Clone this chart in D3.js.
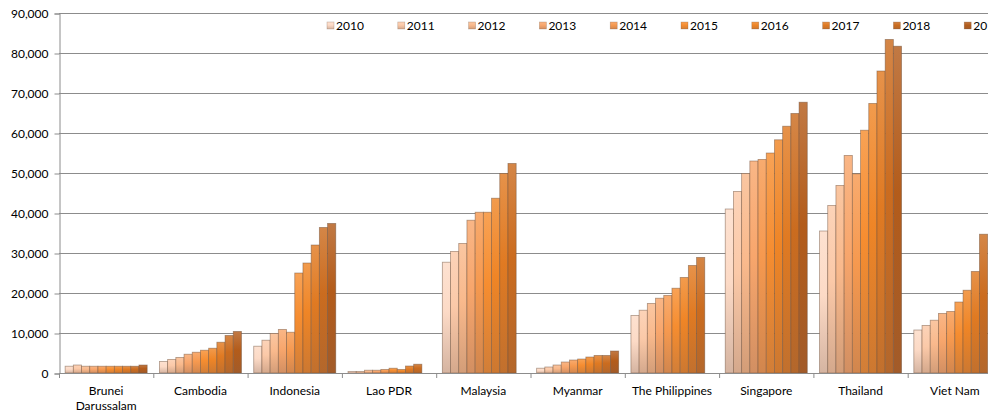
<html>
  <head>
    <title>Bar Chart</title>
    <script src="https://cdn.jsdelivr.net/npm/d3@7"></script>
    <style>
body {
  margin: 0;
  overflow: hidden;
  background: #fff;
  font-family: Lato, "Open Sans", sans-serif;
}
    </style>
  </head>
  <body>
    <script>

var categories = ["Brunei Darussalam", "Cambodia", "Indonesia", "Lao PDR", "Malaysia",
                  "Myanmar", "The Philippines", "Singapore", "Thailand", "Viet Nam"];

var years = ["2010", "2011", "2012", "2013", "2014", "2015", "2016", "2017", "2018", "2019"];

// one array per country, 2010..2019 (null = no bar)
var brunei      = [1700, 2000, 1700, 1700, 1700, 1700, 1700, 1700, 1700, 2000],
    cambodia    = [2900, 3400, 3900, 4700, 5200, 5700, 6200, 7700, 9400, 10400],
    indonesia   = [6700, 8200, 9900, 10900, 10200, 25000, 27500, 32000, 36400, 37400],
    lao         = [400, 400, 700, 700, 900, 1200, 900, 1750, 2200, null],
    malaysia    = [27700, 30400, 32400, 38200, 40200, 40200, 43700, 49900, 52400, null],
    myanmar     = [1200, 1500, 2000, 2750, 3250, 3500, 4000, 4400, 4400, 5500],
    philippines = [14400, 15700, 17400, 18700, 19400, 21200, 23900, 26900, 28900, null],
    singapore   = [41000, 45400, 49900, 53000, 53400, 55000, 58300, 61700, 64900, 67700],
    thailand    = [35500, 41900, 46900, 54400, 49800, 60700, 67400, 75500, 83400, 81700],
    vietnam     = [10750, 11900, 13200, 14900, 15400, 17750, 20700, 25400, 34700, null];

var yTicks = [0, 10000, 20000, 30000, 40000, 50000, 60000, 70000, 80000, 90000];

var colors = ["#fcdac6", "#fbc9a8", "#f9b98c", "#f8a66c", "#f6994f",
              "#f68d30", "#ef8526", "#e07a22", "#cb6c1f", "#b35c1b"];

var values = [brunei, cambodia, indonesia, lao, malaysia, myanmar, philippines, singapore, thailand, vietnam];

var w = 988,
    h = 412,
    plotLeft = 59,
    plotTop = 13,
    plotBottom = 373,
    plotRight = 1002;

var svg = d3.select("body").append("svg")
    .attr("width", w)
    .attr("height", h);

var defs = svg.append("defs");

colors.forEach(function(c, i) {
  var g = defs.append("linearGradient")
      .attr("id", "g" + i)
      .attr("x1", 0).attr("y1", 0).attr("x2", 0).attr("y2", 1);
  g.append("stop").attr("offset", "0%").attr("stop-color", d3.interpolateRgb(c, "#fff")(0.18));
  g.append("stop").attr("offset", "45%").attr("stop-color", c);
  g.append("stop").attr("offset", "100%").attr("stop-color", d3.interpolateRgb(c, "#7a5a4a")(0.3));
});

var x0 = d3.scaleBand()
    .domain(categories)
    .range([plotLeft, plotRight])
    .paddingInner(0.13)
    .paddingOuter(0.065);

var x1 = d3.scaleBand()
    .domain(years)
    .range([0, x0.bandwidth()]);

var y = d3.scaleLinear()
    .domain([0, 90000])
    .range([plotBottom, plotTop]);

// gridlines
svg.append("g").selectAll("line")
    .data(yTicks.slice(1))
  .enter().append("line")
    .attr("x1", plotLeft)
    .attr("x2", w)
    .attr("y1", function(d) { return y(d) + 0.5; })
    .attr("y2", function(d) { return y(d) + 0.5; })
    .attr("stroke", "#8c8c8c")
    .attr("stroke-width", 1);

// y axis
var yAxis = svg.append("g")
    .attr("transform", "translate(" + (plotLeft + 0.5) + ",0.5)")
    .call(d3.axisLeft(y).tickValues(yTicks).tickSize(5).tickPadding(6).tickFormat(d3.format(",")));

yAxis.select(".domain").attr("stroke", "#8c8c8c");
yAxis.selectAll(".tick line").attr("stroke", "#8c8c8c");
yAxis.selectAll("text")
    .attr("fill", "#000")
    .style("font-family", "Lato, sans-serif")
    .style("font-size", "12px");

// bars
var groups = svg.append("g").selectAll("g")
    .data(categories)
  .enter().append("g")
    .attr("transform", function(d) { return "translate(" + x0(d) + ",0)"; });

groups.selectAll("rect")
    .data(function(d, i) {
      return values[i].map(function(v, j) { return {year: years[j], value: v, k: j}; })
        .filter(function(e) { return e.value != null; });
    })
  .enter().append("rect")
    .attr("x", function(d) { return x1(d.year); })
    .attr("y", function(d) { return y(d.value); })
    .attr("width", x1.bandwidth())
    .attr("height", function(d) { return plotBottom - y(d.value); })
    .attr("fill", function(d) { return "url(#g" + d.k + ")"; })
    .attr("stroke", "rgba(110,80,60,0.55)")
    .attr("stroke-width", 0.8);

// x axis
svg.append("line")
    .attr("x1", plotLeft).attr("x2", w)
    .attr("y1", plotBottom + 0.5).attr("y2", plotBottom + 0.5)
    .attr("stroke", "#8c8c8c");

svg.append("g").selectAll("line")
    .data(d3.range(categories.length + 1))
  .enter().append("line")
    .attr("x1", function(i) { return plotLeft + i * x0.step() + 0.5; })
    .attr("x2", function(i) { return plotLeft + i * x0.step() + 0.5; })
    .attr("y1", plotBottom)
    .attr("y2", plotBottom + 5)
    .attr("stroke", "#8c8c8c");

var labels = svg.append("g").selectAll("text")
    .data(categories)
  .enter().append("text")
    .attr("x", function(d) { return x0(d) + x0.bandwidth() / 2; })
    .attr("y", plotBottom + 22)
    .attr("text-anchor", "middle")
    .style("font-size", "12px")
    .attr("fill", "#000")
    .each(function(d) {
      var el = d3.select(this),
          words = d.split(" ");
      el.text(d);
      if (this.getComputedTextLength() > x0.step() - 10 && words.length > 1) {
        el.text(null);
        words.forEach(function(wd, i) {
          el.append("tspan")
              .attr("x", x0(d) + x0.bandwidth() / 2)
              .attr("dy", i ? 15 : 0)
              .text(wd);
        });
      }
    });

// legend
var legend = svg.append("g").selectAll("g")
    .data(years)
  .enter().append("g")
    .attr("transform", function(d, i) { return "translate(" + (327 + i * 70.8) + ",22)"; });

legend.append("rect")
    .attr("width", 7)
    .attr("height", 7)
    .attr("fill", function(d, i) { return "url(#g" + i + ")"; })
    .attr("stroke", "rgba(110,80,60,0.4)")
    .attr("stroke-width", 0.6);

legend.append("text")
    .attr("x", 9)
    .attr("y", 7.5)
    .style("font-size", "12px")
    .attr("fill", "#000")
    .text(function(d) { return d; });

    </script>
  </body>
</html>
